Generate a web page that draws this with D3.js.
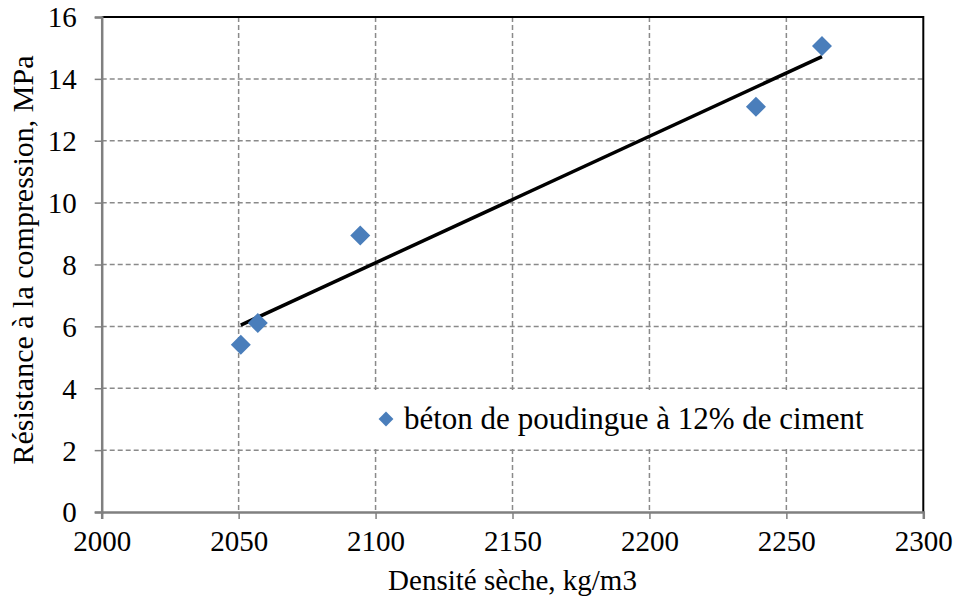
<!DOCTYPE html>
<html><head><meta charset="utf-8">
<script src="https://cdn.jsdelivr.net/npm/d3@7"></script>
<style>body{margin:0;background:#fff}svg{display:block}text{font-family:"Liberation Serif","DejaVu Serif",serif;fill:#000}</style>
</head><body><svg id="c" width="957" height="600"></svg>
<script>
const densite = [2050.8, 2057.0, 2094.4, 2238.9, 2263.0];
const resistance = [5.41, 6.11, 8.94, 13.10, 15.06];
const xTicks = [2000, 2050, 2100, 2150, 2200, 2250, 2300];
const yTicks = [0, 2, 4, 6, 8, 10, 12, 14, 16];
const seriesName = "béton de poudingue à 12% de ciment";
const xTitle = "Densité sèche, kg/m3";
const yTitle = "Résistance à la compression, MPa";

const svg = d3.select("#c");
const L = 101.7, R = 923.3, T = 17, B = 512;
const x = d3.scaleLinear().domain([2000, 2300]).range([L, R]);
const y = d3.scaleLinear().domain([0, 16]).range([B, T]);
const grid = "#8a8a8a";

// grid
svg.append("g").selectAll("line.h").data(yTicks.filter(d => d > 0 && d < 16)).join("line")
  .attr("x1", L).attr("x2", R).attr("y1", d => y(d)).attr("y2", d => y(d))
  .attr("stroke", grid).attr("stroke-width", 1.5).attr("stroke-dasharray", "5,3");
svg.append("g").selectAll("line.v").data(xTicks.filter(d => d > 2000 && d < 2300)).join("line")
  .attr("x1", d => x(d)).attr("x2", d => x(d)).attr("y1", T).attr("y2", B)
  .attr("stroke", grid).attr("stroke-width", 1.5).attr("stroke-dasharray", "5,3");

// legend background
svg.append("rect").attr("x", 368).attr("y", y(4) + 2).attr("width", 515).attr("height", y(2) - y(4) - 4).attr("fill", "#fff");

// border top/right
svg.append("path").attr("d", `M${L},${T}H${R}V${B}`).attr("fill", "none").attr("stroke", "#000").attr("stroke-width", 2);

// axes
const xa = svg.append("g").attr("transform", `translate(0,${B})`)
  .call(d3.axisBottom(x).tickValues(xTicks).tickSize(7).tickPadding(11).tickFormat(d3.format("d")));
const ya = svg.append("g").attr("transform", `translate(${L},0)`)
  .call(d3.axisLeft(y).tickValues(yTicks).tickSize(7).tickPadding(18).tickFormat(d3.format("d")));
[xa, ya].forEach(a => {
  a.select(".domain").attr("stroke", "#808080").attr("stroke-width", 2.5);
  a.selectAll(".tick line").attr("stroke", "#808080").attr("stroke-width", 1.5);
  a.selectAll("text").style("font-size", "29px").attr("fill", "#000");
});
xa.selectAll("text").attr("dy", "0.72em");
ya.selectAll("text").attr("dy", "0.34em");

// trend line (least squares from data)
const mx = d3.mean(densite), my = d3.mean(resistance);
const slope = d3.sum(densite, (d, i) => (d - mx) * (resistance[i] - my)) / d3.sum(densite, d => (d - mx) ** 2);
const icpt = my - slope * mx;
const x0 = d3.min(densite), x1 = d3.max(densite);
svg.append("line").attr("x1", x(x0)).attr("y1", y(icpt + slope * x0)).attr("x2", x(x1)).attr("y2", y(icpt + slope * x1))
  .attr("stroke", "#000").attr("stroke-width", 3.5);

// points
const diamond = d3.symbol().type(d3.symbolSquare).size(200);
svg.append("g").selectAll("path").data(densite).join("path")
  .attr("d", diamond).attr("fill", "#4a7ebb")
  .attr("transform", (d, i) => `translate(${x(d)},${y(resistance[i])}) rotate(45)`);

// legend
svg.append("path").attr("d", d3.symbol().type(d3.symbolSquare).size(110)).attr("fill", "#4a7ebb")
  .attr("transform", "translate(386,419) rotate(45)");
svg.append("text").attr("x", 404).attr("y", 429).style("font-size", "31px").text(seriesName);

// titles
svg.append("text").attr("x", (L + R) / 2).attr("y", 590).attr("text-anchor", "middle").style("font-size", "29px").text(xTitle);
svg.append("text").attr("transform", "translate(33,260) rotate(-90)").attr("text-anchor", "middle").style("font-size", "30px").text(yTitle);
</script></body></html>
